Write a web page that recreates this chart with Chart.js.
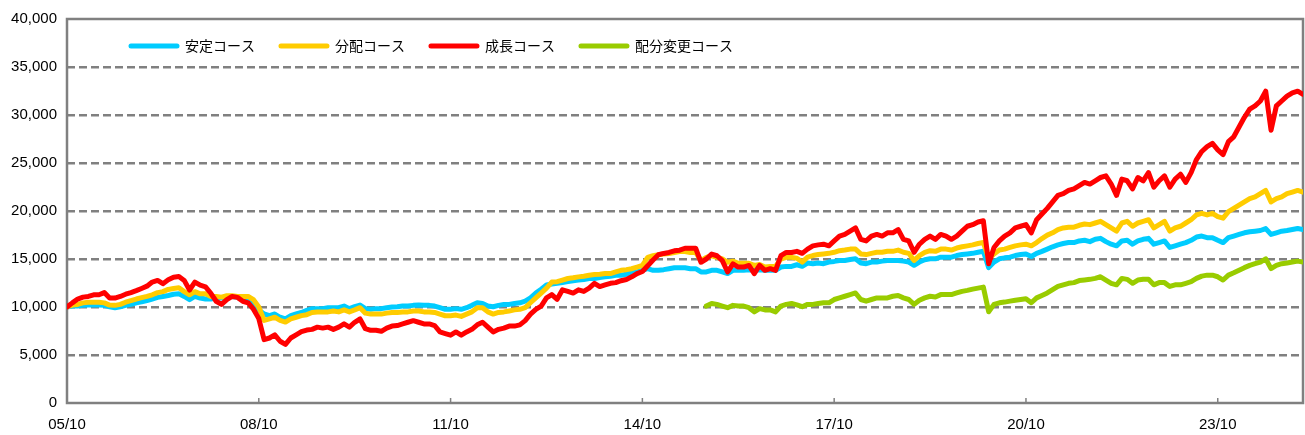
<!DOCTYPE html>
<html>
<head>
<meta charset="utf-8">
<script src="https://cdn.jsdelivr.net/npm/chart.js@4.4.0/dist/chart.umd.min.js"></script>
<style>
html, body { margin: 0; padding: 0; background: #fff; }
</style>
</head>
<body>
<canvas id="myChart" width="1305" height="435"></canvas>
<script>
// month offsets from Oct 2005 used for the x ticks
const tickMonths = [0, 36, 72, 108, 144, 180, 216];
const tickLabels = ['05/10', '08/10', '11/10', '14/10', '17/10', '20/10', '23/10'];

const seriesNames = ['安定コース', '分配コース', '成長コース', '配分変更コース'];
const seriesColors = ['#00CCFF', '#FFCC00', '#FF0000', '#99CC00'];

// monthly values, one per month starting Oct 2005
const stable = [
  10000, 10100, 10100, 10170, 10200, 10200, 10200, 10170, 10030, 9930,
  10030, 10170, 10270, 10430, 10530, 10670, 10830, 11000, 11100, 11200,
  11330, 11370, 11100, 10770, 11100, 10930, 10830, 10830, 10930, 10930,
  11100, 11100, 11000, 10770, 10600, 10270, 9700, 9270, 9100, 9270,
  8930, 8770, 9100, 9270, 9430, 9650,
  9830, 9830, 9830, 9930, 9930, 9930, 10100, 9830, 10030, 10200,
  9830, 9760, 9830, 9830, 9930, 10000, 10030, 10100, 10100, 10170,
  10200, 10170, 10170, 10100, 9930, 9760, 9760, 9830, 9760, 9930,
  10170, 10440, 10370, 10100, 10030, 10170, 10270, 10270, 10370, 10440,
  10610, 10950, 11450, 11860, 12300, 12400,
  12470, 12540, 12640, 12740, 12810, 12870, 12970, 12970, 13080, 13140,
  13210, 13310, 13310, 13410, 13550, 13650, 13820, 13990, 13820, 13820,
  13890, 13990, 14090, 14090, 14090, 13990, 13990, 13650, 13650, 13820,
  13820, 13650, 13480, 13820, 13820, 13820, 13890, 13820, 13890, 13820,
  13820, 13820, 14160, 14230, 14230, 14400,
  14240, 14580, 14510, 14580, 14510, 14680, 14750, 14850, 14850, 14950,
  15020, 14580, 14510, 14680, 14680, 14780, 14850, 14850, 14850, 14780,
  14680, 14340, 14680, 14920, 15020, 15020, 15190, 15190, 15190, 15360,
  15460, 15530, 15590, 15700, 15800, 14100, 14680, 15020, 15120, 15190,
  15360, 15460, 15530, 15260, 15590, 15800,
  16030, 16270, 16470, 16610, 16710, 16710, 16880, 16950, 16810, 17050,
  17150, 16810, 16540, 16370, 16880, 16950, 16540, 16880, 17050, 17150,
  16540, 16710, 16880, 16200, 16370, 16540, 16710, 16950, 17290, 17390,
  17220, 17220, 16950, 16710, 17220, 17390, 17560, 17730, 17830, 17900,
  17970, 18170, 17560, 17730, 17900, 17970, 18070, 18170, 18070
];

const distribution = [
  10000, 10200, 10270, 10430, 10500, 10500, 10500, 10430, 10200, 10170,
  10270, 10500, 10670, 10830, 10970, 11100, 11270, 11500, 11600, 11830,
  11930, 12000, 11600, 11270, 11600, 11370, 11370, 11100, 11100, 11030,
  11170, 11170, 11100, 11100, 11100, 10770, 10000, 8600, 8770, 8930,
  8600, 8430, 8770, 8930, 9100, 9200,
  9430, 9490, 9490, 9490, 9590, 9490, 9700, 9490, 9700, 9930,
  9360, 9260, 9260, 9260, 9360, 9430, 9430, 9490, 9490, 9590,
  9590, 9490, 9490, 9430, 9260, 9090, 9090, 9160, 9020, 9260,
  9490, 9930, 9930, 9490, 9260, 9430, 9490, 9590, 9700, 9760,
  9930, 10440, 10950, 11450, 11960, 12600,
  12640, 12810, 12970, 13040, 13140, 13210, 13310, 13380, 13410, 13480,
  13480, 13650, 13820, 13890, 13990, 14160, 14330, 15170, 15340, 15440,
  15510, 15580, 15680, 15780, 15780, 15680, 15680, 14830, 15170, 15340,
  15170, 15000, 14660, 14770, 14560, 14560, 14560, 14330, 14430, 14160,
  14230, 14230, 15000, 15170, 15170, 15080,
  14680, 15190, 15360, 15460, 15530, 15590, 15700, 15870, 15930, 16030,
  16030, 15530, 15460, 15590, 15700, 15700, 15800, 15800, 15930, 15700,
  15590, 14850, 15360, 15700, 15870, 15800, 16030, 16030, 15930, 16140,
  16270, 16370, 16470, 16610, 16710, 15020, 15530, 15930, 16030, 16200,
  16370, 16470, 16540, 16370, 16710, 17130,
  17490, 17730, 18070, 18240, 18310, 18310, 18510, 18640, 18580, 18750,
  18920, 18580, 18240, 17900, 18750, 18920, 18410, 18750, 18920, 19090,
  18240, 18580, 18920, 17900, 18240, 18410, 18750, 19090, 19590, 19760,
  19590, 19760, 19420, 19250, 19930, 20270, 20610, 20950, 21290, 21460,
  21800, 22140, 20950, 21290, 21460, 21800, 21970, 22140, 21970
];

const growth = [
  10000, 10430, 10830, 11030, 11100, 11270, 11270, 11500, 10930, 10930,
  11100, 11330, 11500, 11700, 11930, 12170, 12600, 12770, 12430, 12830,
  13100, 13170, 12770, 11770, 12600, 12270, 12100, 11430, 10600, 10270,
  10770, 11100, 11000, 10600, 10430, 9770, 8800, 6600, 6770, 7100,
  6430, 6100, 6770, 7100, 7430, 7600,
  7670, 7900, 7800, 7900, 7670, 7900, 8240, 7900, 8410, 8750,
  7740, 7570, 7570, 7470, 7800, 8010, 8070, 8240, 8410, 8580,
  8410, 8240, 8240, 8070, 7400, 7230, 7060, 7400, 7060, 7400,
  7670, 8140, 8410, 7900, 7400, 7670, 7800, 8010, 8010, 8140,
  8580, 9260, 9760, 10100, 10950, 11300,
  10800, 11790, 11620, 11450, 11790, 11620, 11960, 12470, 12130, 12300,
  12470, 12540, 12740, 12870, 13140, 13480, 13700, 14300, 14900, 15440,
  15580, 15680, 15850, 15920, 16120, 16120, 16120, 14660, 15000, 15510,
  15340, 14830, 13650, 14500, 14160, 14160, 14330, 13480, 14330, 13820,
  13990, 13820, 15340, 15680, 15680, 15800,
  15590, 16030, 16370, 16470, 16540, 16370, 16880, 17390, 17560, 17900,
  18240, 17050, 16880, 17390, 17560, 17390, 17730, 17730, 18070, 17050,
  16880, 15700, 16540, 17050, 17390, 17050, 17560, 17390, 17050, 17390,
  17900, 18410, 18580, 18850, 18980, 14500, 16200, 16880, 17390, 17730,
  18240, 18410, 18580, 17730, 19090, 19680,
  20270, 20950, 21630, 21800, 22140, 22310, 22640, 22980, 22810, 23150,
  23490, 23660, 22810, 21630, 23320, 23150, 22310, 23490, 23150, 24000,
  22480, 23150, 23660, 22480, 23320, 23830, 22980, 24000, 25360, 26200,
  26710, 27050, 26370, 25870, 27220, 27730, 28750, 29760, 30610, 30950,
  31460, 32480, 28410, 30950, 31460, 31970, 32310, 32480, 32140
];

// this one only starts in Oct 2015 (month 120)
const mixStart = 120;
const mixChange = [
  10100, 10370, 10270, 10100, 9930, 10170, 10100, 10100, 9930, 9490,
  9830, 9700, 9700, 9490, 10100, 10270, 10370, 10220,
  10030, 10270, 10270, 10370, 10440, 10440, 10780, 10950, 11120, 11290,
  11460, 10780, 10610, 10780, 10950, 10950, 10950, 11120, 11190, 10950,
  10780, 10270, 10710, 10950, 11120, 11050, 11290, 11290, 11290, 11460,
  11630, 11730, 11860, 11970, 12070, 9500, 10270, 10440, 10510, 10610,
  10710, 10780, 10850, 10440, 10950, 11200,
  11460, 11800, 12140, 12310, 12470, 12540, 12750, 12810, 12880, 12980,
  13150, 12810, 12470, 12310, 12980, 12880, 12470, 12810, 12880, 12880,
  12310, 12540, 12540, 12140, 12310, 12310, 12470, 12640, 12980, 13220,
  13320, 13320, 13150, 12810, 13320, 13560, 13830, 14100, 14340, 14510,
  14680, 15020, 14000, 14340, 14510, 14580, 14680, 14780, 14680
];

function toPoints(values, start) {
  return values.map((v, i) => ({ x: start + i, y: v }));
}

const lastMonth = stable.length - 1;
const labelFont = { family: '"Liberation Sans", Arial, sans-serif', size: 15 };

// grey frame and small inward ticks on the bottom axis
const framePlugin = {
  id: 'frame',
  beforeDatasetsDraw(chart) {
    const { ctx, chartArea } = chart;
    const xs = chart.scales.x;
    ctx.save();
    ctx.strokeStyle = '#808080';
    ctx.lineWidth = 2.5;
    ctx.strokeRect(chartArea.left, chartArea.top, chartArea.right - chartArea.left, chartArea.bottom - chartArea.top);
    ctx.lineWidth = 1.5;
    tickMonths.slice(1).forEach(m => {
      const px = xs.getPixelForValue(m);
      ctx.beginPath();
      ctx.moveTo(px, chartArea.bottom);
      ctx.lineTo(px, chartArea.bottom - 5);
      ctx.stroke();
    });
    ctx.restore();
  }
};

// legend drawn inside the plot, top left
const legendPlugin = {
  id: 'insideLegend',
  afterDatasetsDraw(chart) {
    const { ctx, chartArea } = chart;
    ctx.save();
    ctx.font = '14px "Noto Sans CJK JP", sans-serif';
    ctx.textBaseline = 'middle';
    let x = chartArea.left + 64;
    const y = chartArea.top + 27;
    seriesNames.forEach((name, i) => {
      ctx.strokeStyle = seriesColors[i];
      ctx.lineWidth = 5;
      ctx.lineCap = 'round';
      ctx.beginPath();
      ctx.moveTo(x, y);
      ctx.lineTo(x + 46, y);
      ctx.stroke();
      ctx.fillStyle = '#000';
      ctx.fillText(name, x + 54, y);
      x += 54 + ctx.measureText(name).width + 26;
    });
    ctx.restore();
  }
};

const ctx = document.getElementById('myChart').getContext('2d');

const chart = new Chart(ctx, {
  type: 'line',
  data: {
    datasets: [
      { label: seriesNames[0], data: toPoints(stable, 0), borderColor: seriesColors[0], order: 2 },
      { label: seriesNames[1], data: toPoints(distribution, 0), borderColor: seriesColors[1], order: 1 },
      { label: seriesNames[2], data: toPoints(growth, 0), borderColor: seriesColors[2], order: 0 },
      { label: seriesNames[3], data: toPoints(mixChange, mixStart), borderColor: seriesColors[3], order: 3 }
    ]
  },
  options: {
    responsive: false,
    animation: false,
    layout: { padding: { left: 7, right: 2, top: 10, bottom: 0 } },
    elements: {
      point: { radius: 0 },
      line: { borderWidth: 5, tension: 0, borderJoinStyle: 'round', borderCapStyle: 'round', fill: false }
    },
    plugins: {
      legend: { display: false },
      tooltip: { enabled: false }
    },
    scales: {
      x: {
        type: 'linear',
        min: 0,
        max: lastMonth,
        afterBuildTicks: s => { s.ticks = tickMonths.map(v => ({ value: v })); },
        afterFit: s => { s.height = 32; },
        grid: { display: false },
        border: { display: false },
        ticks: {
          autoSkip: false,
          maxRotation: 0,
          padding: 5,
          color: '#000',
          font: labelFont,
          callback: v => tickLabels[tickMonths.indexOf(v)]
        }
      },
      y: {
        min: 0,
        max: 40000,
        afterFit: s => { s.width = 60; },
        grid: {
          drawTicks: false,
          lineWidth: 2.5,
          color: c => (c.tick && (c.tick.value === 0 || c.tick.value === 40000)) ? 'rgba(0,0,0,0)' : '#808080'
        },
        border: { display: false, dash: [8, 4] },
        ticks: {
          stepSize: 5000,
          padding: 10,
          color: '#000',
          font: labelFont,
          callback: v => v.toLocaleString('en-US')
        }
      }
    }
  },
  plugins: [framePlugin, legendPlugin]
});
</script>
</body>
</html>
